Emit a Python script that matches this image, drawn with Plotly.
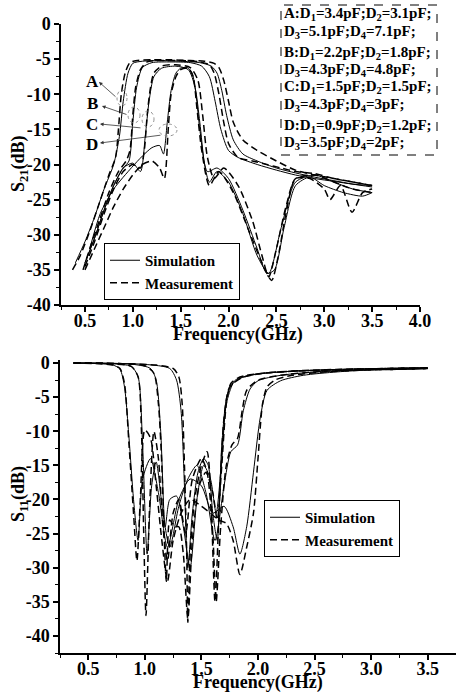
import plotly.graph_objects as go

W, H = 456, 693
FONT = "Liberation Serif"

# ---------------- S21 data (GHz, dB) ----------------
s21_meas_A_f = [0.37,0.45,0.55,0.65,0.75,0.82,0.85,0.88,0.92,0.97,1.05,1.2,1.4,1.6,1.75,1.85,1.9,1.95,2.0,2.05,2.15,2.3,2.5,2.7,2.9,3.1,3.3,3.5]
s21_meas_A_db = [-35,-33,-29.5,-25.5,-21.5,-19,-15,-10,-7,-5.5,-5.2,-5.1,-5.1,-5.2,-5.3,-5.6,-6.2,-8,-11,-14,-16.5,-18,-19.5,-20.8,-21.5,-22,-22.5,-23]
s21_meas_B_f = [0.48,0.55,0.65,0.75,0.85,0.93,0.97,1.0,1.03,1.08,1.15,1.3,1.5,1.7,1.8,1.85,1.9,1.95,2.0,2.1,2.25,2.4,2.55,2.7,2.9,3.1,3.3,3.5]
s21_meas_B_db = [-35,-32,-28,-24,-21,-19.5,-18,-13,-9,-6.5,-5.4,-5.2,-5.2,-5.4,-5.8,-7,-10,-14,-17,-19,-19.5,-20,-20.5,-21,-21.3,-22,-22.5,-23]
s21_meas_C_f = [0.5,0.6,0.7,0.8,0.9,1.0,1.08,1.12,1.15,1.18,1.22,1.3,1.45,1.6,1.68,1.73,1.78,1.85,1.95,2.1,2.25,2.35,2.42,2.5,2.6,2.7,2.9,3.1,3.3,3.5]
s21_meas_C_db = [-34.5,-31,-27,-23.5,-21,-20,-20.5,-18,-13,-9.5,-7,-6,-5.8,-6.2,-8,-13,-19,-22,-20.5,-23,-28,-33,-36,-32,-26,-22,-21.5,-22.5,-23.5,-24]
s21_meas_D_f = [0.5,0.6,0.7,0.8,0.9,1.0,1.1,1.2,1.28,1.33,1.37,1.4,1.45,1.5,1.58,1.63,1.67,1.72,1.8,1.9,2.05,2.2,2.35,2.45,2.52,2.6,2.7,2.85,3.0,3.06,3.17,3.29,3.4,3.5]
s21_meas_D_db = [-35,-32,-29,-26,-23.5,-21.5,-20,-19.5,-20.5,-22,-15,-10,-7.5,-6.5,-6.3,-7.5,-12,-18,-23,-21,-24,-29,-34,-36.5,-33,-27,-22,-22,-23.5,-25,-23,-26.8,-24,-23.5]

s21_sim_A_f = [0.4,0.5,0.6,0.7,0.8,0.86,0.9,0.95,1.0,1.1,1.3,1.5,1.7,1.82,1.88,1.93,1.98,2.05,2.15,2.3,2.5,2.7,2.9,3.1,3.3,3.5]
s21_sim_A_db = [-34,-31,-27.5,-23.5,-20,-16,-11,-7,-5.6,-5.3,-5.2,-5.3,-5.5,-6,-7,-9.5,-13,-16.5,-18.5,-19.5,-20.5,-21.2,-21.8,-22.3,-22.8,-23.2]
s21_sim_B_f = [0.5,0.6,0.7,0.8,0.9,0.96,1.0,1.04,1.1,1.2,1.4,1.6,1.72,1.8,1.86,1.92,2.0,2.1,2.3,2.5,2.7,2.9,3.1,3.3,3.5]
s21_sim_B_db = [-34,-30.5,-26.5,-23,-20.5,-19.5,-14,-9,-6.2,-5.5,-5.4,-5.5,-6,-7.5,-11,-15,-18,-19,-20,-20.8,-21.5,-22,-22.4,-22.8,-23]
s21_sim_C_f = [0.5,0.6,0.7,0.8,0.9,1.0,1.08,1.13,1.17,1.22,1.3,1.45,1.58,1.65,1.7,1.75,1.8,1.88,2.0,2.15,2.3,2.42,2.55,2.7,2.9,3.1,3.3,3.5]
s21_sim_C_db = [-34,-30.5,-26.5,-23,-20.5,-19.8,-21,-16,-11,-7.5,-6.3,-6,-6.5,-9,-14,-20,-22.5,-21,-22.5,-27,-33,-35.5,-29,-22.5,-21.5,-22.5,-23.5,-24]
s21_sim_D_f = [0.55,0.66,0.8,0.99,1.1,1.2,1.28,1.32,1.36,1.4,1.45,1.5,1.57,1.62,1.66,1.7,1.78,1.88,2.0,2.15,2.3,2.4,2.48,2.58,2.7,2.85,3.0,3.2,3.4,3.5]
s21_sim_D_db = [-32,-27,-23.5,-20.4,-18.8,-17.6,-17.3,-18.5,-14,-9.5,-7,-6.3,-6.2,-7,-10,-15,-21,-20.5,-22,-26.5,-32,-35.5,-35,-29,-23,-21.8,-23,-24,-24.5,-24]

# ---------------- S11 data (GHz, dB) ----------------
s11_meas_A_f = [0.37,0.6,0.72,0.78,0.82,0.86,0.9,0.93,0.96,1.0,1.05,1.1,1.15,1.2,1.25,1.32,1.4,1.5,1.58,1.65,1.72,1.78,1.84,1.9,1.96,2.0,2.04,2.08,2.15,2.3,2.6,3.0,3.3,3.5]
s11_meas_A_db = [0,-0.1,-0.3,-0.8,-3,-12,-22,-29,-20,-9.8,-11,-18,-26,-32,-26,-22,-20,-21,-22,-23,-23.5,-26,-31,-27,-22,-14,-6,-3.5,-2.5,-1.8,-1.3,-1,-0.9,-0.8]
s11_meas_B_f = [0.37,0.7,0.88,0.94,0.97,0.99,1.01,1.04,1.08,1.12,1.16,1.2,1.25,1.3,1.36,1.42,1.5,1.55,1.6,1.63,1.67,1.72,1.77,1.82,1.86,1.9,2.0,2.2,2.5,2.9,3.3,3.5]
s11_meas_B_db = [0,-0.1,-0.5,-2,-10,-25,-37,-22,-10,-14,-24,-29,-22,-20,-25,-17,-14,-16,-25,-35,-24,-15,-12,-11,-7,-4,-2.5,-1.8,-1.3,-1,-0.9,-0.8]
s11_meas_C_f = [0.37,0.8,1.0,1.08,1.12,1.15,1.17,1.19,1.22,1.26,1.3,1.34,1.38,1.42,1.48,1.54,1.6,1.64,1.68,1.72,1.76,1.82,1.9,2.1,2.4,2.8,3.2,3.5]
s11_meas_C_db = [0,-0.1,-0.4,-1.5,-6,-15,-25,-32,-23,-24,-24,-28,-37.5,-26,-18,-16,-19,-23,-15,-6,-3,-2.2,-1.8,-1.4,-1.1,-0.9,-0.8,-0.7]
s11_meas_D_f = [0.37,0.8,1.1,1.25,1.3,1.33,1.35,1.37,1.38,1.4,1.44,1.5,1.55,1.58,1.62,1.66,1.7,1.75,1.85,2.0,2.3,2.7,3.1,3.5]
s11_meas_D_db = [0,-0.1,-0.3,-0.8,-2,-6,-15,-28,-38,-28,-20,-15,-13,-18,-35,-20,-8,-3.5,-2.2,-1.6,-1.2,-1,-0.8,-0.7]

s11_sim_A_f = [0.37,0.6,0.72,0.78,0.82,0.86,0.9,0.94,0.98,1.05,1.12,1.2,1.3,1.4,1.5,1.6,1.7,1.78,1.84,1.9,1.96,2.02,2.08,2.2,2.4,2.7,3.0,3.5]
s11_sim_A_db = [0,-0.1,-0.3,-0.9,-3.5,-11,-20,-26,-17,-14,-19,-27,-20,-17,-18,-22,-21,-24,-28,-24,-16,-8,-4,-2.6,-1.8,-1.3,-1,-0.8]
s11_sim_B_f = [0.37,0.7,0.88,0.94,0.98,1.02,1.06,1.1,1.16,1.22,1.3,1.38,1.46,1.54,1.62,1.7,1.76,1.82,1.87,1.93,2.0,2.2,2.6,3.0,3.5]
s11_sim_B_db = [0,-0.1,-0.5,-2,-12,-28,-18,-14.5,-22,-27,-21,-17,-15,-19,-26,-18,-13,-12,-7,-3.8,-2.6,-1.8,-1.2,-1,-0.8]
s11_sim_C_f = [0.37,0.9,1.05,1.1,1.14,1.18,1.22,1.28,1.34,1.4,1.46,1.52,1.58,1.63,1.68,1.72,1.78,1.85,2.0,2.3,2.8,3.5]
s11_sim_C_db = [0,-0.2,-0.8,-2.5,-10,-24,-20,-19.5,-24,-30,-20,-15,-17,-22,-14,-6,-3,-2.2,-1.6,-1.2,-0.9,-0.7]
s11_sim_D_f = [0.37,1.0,1.22,1.28,1.32,1.35,1.38,1.42,1.47,1.52,1.56,1.6,1.64,1.68,1.73,1.8,1.95,2.3,2.8,3.5]
s11_sim_D_db = [0,-0.2,-0.8,-2.5,-7,-18,-30,-22,-16,-14,-15,-22,-26,-12,-4.5,-2.5,-1.7,-1.2,-0.9,-0.7]

# ---------------- ticks & labels ----------------
top_xticks = [0.5,1.0,1.5,2.0,2.5,3.0,3.5,4.0]
top_xlabels = ["0.5","1.0","1.5","2.0","2.5","3.0","3.5","4.0"]
bot_xticks = [0.5,1.0,1.5,2.0,2.5,3.0,3.5]
bot_xlabels = ["0.5","1.0","1.5","2.0","2.5","3.0","3.5"]
yticks = [0,-5,-10,-15,-20,-25,-30,-35,-40]
ylabels = ["0","-5","-10","-15","-20","-25","-30","-35","-40"]
state_names = ["A","B","C","D"]
legend_names = ["Simulation","Measurement"]
box_lines = [
    "A:D<sub>1</sub>=3.4pF;D<sub>2</sub>=3.1pF;",
    "D<sub>3</sub>=5.1pF;D<sub>4</sub>=7.1pF;",
    "B:D<sub>1</sub>=2.2pF;D<sub>2</sub>=1.8pF;",
    "D<sub>3</sub>=4.3pF;D<sub>4</sub>=4.8pF;",
    "C:D<sub>1</sub>=1.5pF;D<sub>2</sub>=1.5pF;",
    "D<sub>3</sub>=4.3pF;D<sub>4</sub>=3pF;",
    "D:D<sub>1</sub>=0.9pF;D<sub>2</sub>=1.2pF;",
    "D<sub>3</sub>=3.5pF;D<sub>4</sub>=2pF;",
]

def b(t):
    return "<b>" + t + "</b>"

def px(x):
    return x / W

def py(y):
    return 1 - y / H

fig = go.Figure()

DASH = "7px,4px"

def add(fx, fy, xa, ya, sim, legend, show):
    fig.add_trace(go.Scatter(
        x=fx, y=fy, xaxis=xa, yaxis=ya, mode="lines",
        line=dict(color="black", width=1.0 if sim else 1.5,
                  dash="solid" if sim else DASH, shape="spline", smoothing=0.7),
        name=b(legend_names[0] if sim else legend_names[1]),
        legend=legend, showlegend=show, hoverinfo="skip"))

s21_sim = [(s21_sim_A_f, s21_sim_A_db), (s21_sim_B_f, s21_sim_B_db), (s21_sim_C_f, s21_sim_C_db), (s21_sim_D_f, s21_sim_D_db)]
s21_meas = [(s21_meas_A_f, s21_meas_A_db), (s21_meas_B_f, s21_meas_B_db), (s21_meas_C_f, s21_meas_C_db), (s21_meas_D_f, s21_meas_D_db)]
s11_sim = [(s11_sim_A_f, s11_sim_A_db), (s11_sim_B_f, s11_sim_B_db), (s11_sim_C_f, s11_sim_C_db), (s11_sim_D_f, s11_sim_D_db)]
s11_meas = [(s11_meas_A_f, s11_meas_A_db), (s11_meas_B_f, s11_meas_B_db), (s11_meas_C_f, s11_meas_C_db), (s11_meas_D_f, s11_meas_D_db)]

for i, (f, d) in enumerate(s21_sim):
    add(f, d, "x", "y", True, "legend", i == 0)
for i, (f, d) in enumerate(s21_meas):
    add(f, d, "x", "y", False, "legend", i == 0)
for i, (f, d) in enumerate(s11_sim):
    add(f, d, "x2", "y2", True, "legend2", i == 0)
for i, (f, d) in enumerate(s11_meas):
    add(f, d, "x2", "y2", False, "legend2", i == 0)

tickfont = dict(family=FONT, size=18, color="black")
common = dict(showline=True, linecolor="black", linewidth=1.5, ticks="outside",
              ticklen=5, tickwidth=1.5, tickcolor="black", showgrid=False,
              zeroline=False, tickfont=tickfont, tickmode="array", mirror=False,
              automargin=False)
minor_x = dict(tickmode="linear", tick0=0, dtick=0.25, ticks="outside", ticklen=3, tickwidth=1, tickcolor="black")
minor_y = dict(tickmode="linear", tick0=0, dtick=2.5, ticks="outside", ticklen=3, tickwidth=1, tickcolor="black")

fig.update_layout(
    width=W, height=H, margin=dict(l=0, r=0, t=0, b=0, pad=0, autoexpand=False),
    paper_bgcolor="white", plot_bgcolor="white",
    font=dict(family=FONT, color="black"),
    xaxis=dict(domain=[px(61), px(420)], range=[0.25, 4.0], anchor="y",
               tickvals=top_xticks, ticktext=[b(t) for t in top_xlabels],
               minor=minor_x, ticklabelstandoff=-6, **common),
    yaxis=dict(domain=[py(305), py(24)], range=[-40, 0], anchor="x",
               tickvals=yticks, ticktext=[b(t) for t in ylabels],
               minor=minor_y, **common),
    xaxis2=dict(domain=[px(60), 1.0], range=[0.25, 3.75], anchor="y2",
                tickvals=bot_xticks, ticktext=[b(t) for t in bot_xlabels],
                minor=minor_x, ticklabelstandoff=-6, **common),
    yaxis2=dict(domain=[py(653), py(360.3)], range=[-42.5, 0.4], anchor="x2",
                tickvals=yticks, ticktext=[b(t) for t in ylabels],
                minor=minor_y, **common),
    legend=dict(x=px(104), y=py(243), xanchor="left", yanchor="top",
                bordercolor="black", borderwidth=1, bgcolor="white",
                font=dict(family=FONT, size=15, color="black"),
                tracegroupgap=0, itemwidth=30),
    legend2=dict(x=px(264), y=py(500), xanchor="left", yanchor="top",
                 bordercolor="black", borderwidth=1, bgcolor="white",
                 font=dict(family=FONT, size=15, color="black"),
                 tracegroupgap=0, itemwidth=30),
)

ann = []
# axis titles
ann.append(dict(x=px(238), y=py(334), xref="paper", yref="paper", text=b("Frequency(GHz)"),
                xanchor="center", yanchor="middle",
                showarrow=False, font=dict(family=FONT, size=18)))
ann.append(dict(x=px(258), y=py(682), xref="paper", yref="paper", text=b("Frequency(GHz)"),
                xanchor="center", yanchor="middle",
                showarrow=False, font=dict(family=FONT, size=18)))
ann.append(dict(x=px(19), y=py(164), xref="paper", yref="paper", text=b("S<sub>21</sub>(dB)"),
                xanchor="center", yanchor="middle",
                textangle=-90, showarrow=False, font=dict(family=FONT, size=18)))
ann.append(dict(x=px(19), y=py(494), xref="paper", yref="paper", text=b("S<sub>11</sub>(dB)"),
                xanchor="center", yanchor="middle",
                textangle=-90, showarrow=False, font=dict(family=FONT, size=18)))

# parameter box text
line_y = [14, 32, 53, 70, 87, 105, 126, 143]
for t, yy in zip(box_lines, line_y):
    ann.append(dict(x=px(282), y=py(yy), xref="paper", yref="paper", text=b(t),
                    xanchor="left", yanchor="middle", showarrow=False,
                    font=dict(family=FONT, size=15)))

# state letters and arrows
letter_pos = [(92, 81), (92, 103), (92, 124), (92, 144)]
arrow_head = [(99, 82), (102, 106), (100, 124), (100, 143)]
arrow_tail = [(117, 98), (128, 115), (142, 128), (162, 135)]
for name, (lx, ly), (hx, hy), (tx, ty) in zip(state_names, letter_pos, arrow_head, arrow_tail):
    ann.append(dict(x=px(lx), y=py(ly), xref="paper", yref="paper", text=b(name),
                    xanchor="center", yanchor="middle",
                    showarrow=False, font=dict(family=FONT, size=17)))
    ann.append(dict(x=px(hx), y=py(hy), xref="paper", yref="paper", text="",
                    showarrow=True, ax=tx - hx, ay=ty - hy, arrowhead=2, arrowsize=0.9,
                    arrowwidth=0.8, arrowcolor="#333333"))
fig.update_layout(annotations=ann)

shapes = [dict(type="rect", xref="paper", yref="paper", x0=px(281), x1=px(437), y0=py(155), y1=py(5),
               line=dict(color="black", width=1, dash="dash"))]
ellipses = [(122, 98, 5, 8), (134, 115, 6, 8), (148, 119, 6, 8), (168, 130, 9, 6)]
for cx, cy, rx, ry in ellipses:
    shapes.append(dict(type="circle", xref="paper", yref="paper",
                       x0=px(cx - rx), x1=px(cx + rx), y0=py(cy + ry), y1=py(cy - ry),
                       line=dict(color="#777777", width=0.8, dash="dot")))
fig.update_layout(shapes=shapes)

fig.write_html("out.html")
